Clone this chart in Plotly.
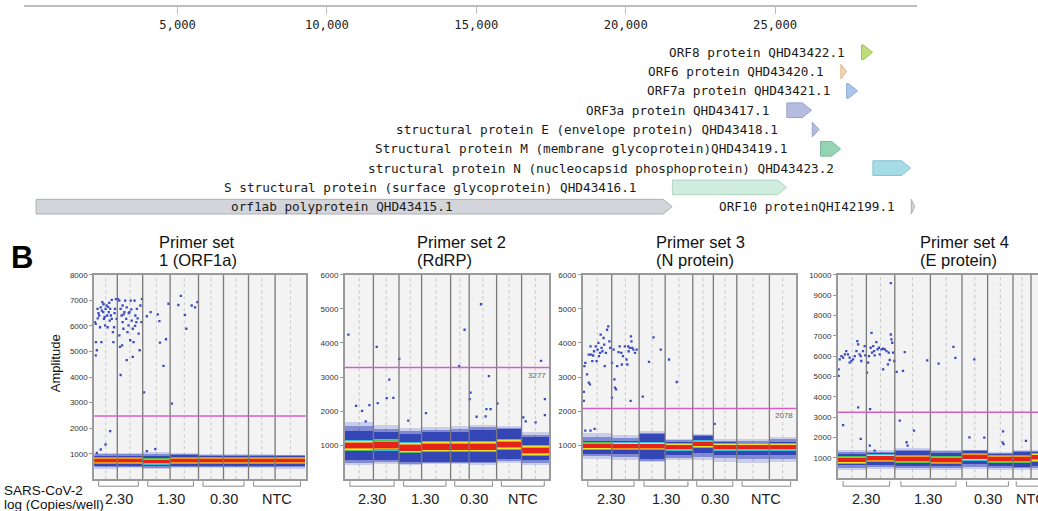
import plotly.graph_objects as go

W, H = 1038, 511


def px(x):
    return x / W


def py(y):
    return 1 - y / H


# ---------------- genome map data ----------------
genome_ticks = [5000, 10000, 15000, 20000, 25000]
gene_labels = [
    "ORF8 protein QHD43422.1",
    "ORF6 protein QHD43420.1",
    "ORF7a protein QHD43421.1",
    "ORF3a protein QHD43417.1",
    "structural protein E (envelope protein) QHD43418.1",
    "Structural protein M (membrane glycoprotein)QHD43419.1",
    "structural protein N (nucleocapsid phosphoprotein) QHD43423.2",
    "S structural protein (surface glycoprotein) QHD43416.1",
    "orf1ab polyprotein QHD43415.1",
    "ORF10 proteinQHI42199.1",
]
gene_start = [27894, 27202, 27394, 25393, 26245, 26523, 28274, 21563, 266, 29558]
gene_end = [28259, 27387, 27759, 26220, 26472, 27191, 29533, 25384, 21555, 29674]
gene_row = [0, 1, 2, 3, 4, 5, 6, 7, 8, 8]

# ---------------- ddPCR data ----------------
group_labels = ["2.30", "1.30", "0.30", "NTC"]

# droplet events per well
p1_counts = [11500, 12700, 13700, 14200, 12500, 12500, 13300, 15300]
p2_counts = [14200, 12800, 11300, 14500, 9300, 13700, 12500, 13700]
p3_counts = [14500, 13700, 13000, 13800, 10300, 11700, 16300, 13300]
p4_counts = [14200, 14200, 17800, 15800, 12800, 12700, 9000, 9000]

# negative-droplet cluster: centre, dense band and sparse fringe
p1_center = [740, 745, 705, 745, 735, 745, 740, 735]
p1_solid_lo = [530, 530, 520, 540, 540, 540, 540, 530]
p1_solid_hi = [920, 930, 900, 940, 930, 930, 920, 910]
p1_fringe_lo = [420, 430, 400, 430, 440, 430, 430, 420]
p1_fringe_hi = [1030, 1050, 1080, 1040, 1000, 990, 980, 970]
p1_core_half = 135

p2_center = [990, 1010, 930, 960, 960, 960, 1020, 845]
p2_solid_lo = [560, 580, 505, 520, 520, 520, 600, 555]
p2_solid_hi = [1430, 1380, 1330, 1380, 1400, 1450, 1480, 1230]
p2_fringe_lo = [430, 450, 420, 440, 450, 420, 480, 430]
p2_fringe_hi = [1680, 1600, 1500, 1530, 1560, 1600, 1560, 1400]
p2_core_half = 165

p3_center = [990, 970, 970, 950, 1040, 950, 950, 950]
p3_solid_lo = [750, 760, 600, 720, 780, 730, 720, 720]
p3_solid_hi = [1140, 1130, 1330, 1100, 1260, 1100, 1080, 1100]
p3_fringe_lo = [600, 580, 500, 560, 560, 520, 480, 500]
p3_fringe_hi = [1350, 1300, 1420, 1200, 1320, 1180, 1200, 1250]
p3_core_half = 115

p4_center = [920, 985, 955, 905, 1060, 950, 950, 1030]
p4_solid_lo = [640, 660, 590, 620, 700, 620, 560, 600]
p4_solid_hi = [1200, 1230, 1360, 1250, 1350, 1200, 1300, 1300]
p4_fringe_lo = [420, 450, 400, 430, 450, 420, 430, 420]
p4_fringe_hi = [1380, 1400, 1480, 1400, 1420, 1320, 1400, 1420]
p4_core_half = 200

thresholds = [2480, 3277, 2078, 3250]
threshold_labels = [None, "3277", "2078", None]
y_max = [8000, 6000, 6000, 10000]
p1_yticks = [1000, 2000, 3000, 4000, 5000, 6000, 7000, 8000]
p2_yticks = [1000, 2000, 3000, 4000, 5000, 6000]
p3_yticks = [1000, 2000, 3000, 4000, 5000, 6000]
p4_yticks = [1000, 2000, 3000, 4000, 5000, 6000, 7000, 8000, 9000, 10000]

# individual droplets (well index + position within well, amplitude)
p1_pos = [0.03, 0.06, 0.07, 0.11, 0.06, 0.14, 0.21, 0.28, 0.35, 0.39, 0.42, 0.49, 0.53, 0.56, 0.58,
          0.63, 0.67, 0.69, 0.72, 0.76, 0.76, 0.81, 0.83, 0.86, 0.90, 0.94, 0.97, 0.31, 0.25, 0.47,
          0.18, 0.33, 0.45, 0.60, 0.88, 0.15, 0.65, 0.40, 0.69, 0.49, 0.28, 0.11,
          1.03, 1.08, 1.13, 1.17, 1.21, 1.24, 1.08, 1.11, 1.13, 1.19, 1.28, 1.31, 1.35, 1.37, 1.40,
          1.44, 1.48, 1.51, 1.53, 1.57, 1.61, 1.61, 1.64, 1.68, 1.71, 1.75, 1.77, 1.84, 1.88, 1.91,
          1.95, 1.97, 1.37, 1.21, 1.45, 1.55, 1.25, 1.80, 1.70,
          2.05, 2.15, 2.29, 2.55, 2.63, 2.61, 2.76, 2.94, 2.85, 2.46, 2.15,
          3.06, 3.29, 3.38, 3.52, 3.57, 3.76, 3.88, 3.96]
p1_amp = [6150, 6080, 5370, 5050, 4850, 6670, 6410, 6730, 6930, 6540, 6280, 6670, 6800, 6410, 5950,
          6540, 6210, 6670, 6410, 7020, 6280, 5760, 5370, 5950, 6670, 7050, 6280, 5370, 5950, 6020,
          6500, 6600, 6350, 6750, 6500, 6300, 6900, 6850, 1880, 1360, 1165, 1035,
          7050, 6990, 6670, 6410, 6150, 5890, 5630, 5180, 4080, 5240, 6540, 6990, 6280, 6730, 5760,
          6020, 6540, 5440, 6990, 6210, 5890, 4790, 5370, 6990, 6410, 6150, 6670, 5700, 5050, 6800,
          6150, 7050, 4660, 6800, 6500, 6650, 6450, 6300, 6000,
          3400, 6380, 6540, 6450, 5350, 6190, 4440, 6870, 5480, 1180, 1100,
          2960, 6820, 7180, 6430, 5890, 6800, 6730, 6930]

p2_pos = [0.12, 0.39, 0.60, 0.86, 0.73,
          1.13, 1.17, 1.52, 1.62, 1.78,
          2.01, 2.41, 3.15, 4.46, 4.75,
          5.05, 5.02, 5.43, 5.27, 5.60, 5.72, 5.63, 5.78,
          6.03, 7.06, 7.15, 7.51, 7.71, 7.85, 7.85]
p2_amp = [4243, 2156, 2010, 2175, 1700,
          3884, 2233, 2379, 2923, 2389,
          3534, 1719, 1942, 3321, 4389,
          2544, 2350, 5137, 1835, 1845, 3030, 2058, 2058,
          2224, 1816, 1700, 1670, 3476, 2350, 1884]

p3_pos = [0.04, 0.04, 0.06, 0.09, 0.15, 0.21, 0.25, 0.21, 0.29, 0.33, 0.39, 0.45, 0.51, 0.54, 0.56,
          0.60, 0.62, 0.65, 0.68, 0.72, 0.74, 0.80, 0.84, 0.88, 0.92, 0.95, 0.76, 0.48, 0.36, 0.27,
          0.09, 0.27, 0.41,
          1.01, 1.01, 1.07, 1.10, 1.12, 1.20, 1.25, 1.29, 1.35, 1.37, 1.41, 1.48, 1.54, 1.57, 1.62,
          1.66, 1.70, 1.72, 1.75, 1.79, 1.85, 1.91, 1.69, 1.60, 1.16,
          2.14, 2.38, 2.55, 2.83, 3.14, 3.42, 5.05]
p3_amp = [2563, 2301, 3321, 3418, 3078, 2835, 2787, 3660, 3660, 3467, 3758, 3903, 3806, 4001, 3612,
          3709, 4243, 3855, 3758, 4146, 3952, 3709, 4389, 4486, 4049, 3855, 3321, 3467, 3632, 3903,
          1427, 1427, 1476,
          2398, 3418, 3806, 2932, 2690, 3321, 3729, 3903, 3709, 3369, 3612, 3903, 3515, 3369, 3758,
          3855, 4195, 4049, 3855, 3806, 3709, 3806, 2301, 3903, 2641,
          2427, 3447, 4166, 3806, 3515, 2855, 1623]

p4_pos = [0.02, 0.02, 0.06, 0.12, 0.18, 0.24, 0.29, 0.35, 0.41, 0.47, 0.53, 0.59, 0.65, 0.68, 0.71,
          0.76, 0.80, 0.82, 0.88, 0.94, 0.96, 0.71, 0.18, 0.80, 0.41,
          1.02, 1.06, 1.09, 1.13, 1.15, 1.18, 1.20, 1.24, 1.27, 1.29, 1.35, 1.39, 1.44, 1.47, 1.53,
          1.59, 1.65, 1.71, 1.76, 1.79, 1.82, 1.86, 1.88, 1.91, 1.94, 1.98, 1.86, 1.59, 1.12, 1.29,
          2.05, 2.14, 2.23, 2.28, 2.33, 2.36, 2.54, 2.91,
          3.73, 3.79, 3.26, 4.48, 4.29, 4.87, 5.61, 5.59, 5.63, 6.72]
p4_amp = [5030, 5356, 5845, 6009, 5927, 6090, 6253, 6090, 5927, 5764, 5845, 6009, 6253, 6742, 6579,
          6090, 6009, 5764, 6253, 6498, 6042, 3482, 2617, 1932, 5682,
          5193, 5682, 6009, 3400, 6416, 7150, 6172, 6498, 6253, 6042, 6693, 6335, 6416, 6090, 6335,
          6368, 6335, 6253, 5601, 6172, 5813, 7068, 6824, 6661, 6172, 5764, 9598, 5356, 1606, 1361,
          5226, 2829, 5275, 6205, 1769, 1606, 2340, 5797,
          6460, 5920, 5640, 5840, 2010, 2000, 2300, 1760, 1680, 1840]
p4_visible_events = 100000

# ---------------- styles ----------------
gene_fill = ["#bcdd78", "#f6d3ad", "#abc6ea", "#b4bde0", "#b4bde0", "#95d3b5",
             "#a6dbe8", "#cfecdf", "#d4d5da", "#d4d5da"]
gene_line = ["#9cc45a", "#e2b68c", "#8eaad3", "#98a2c9", "#98a2c9", "#79b99a",
             "#87c1cf", "#aed3c2", "#aeafb5", "#aeafb5"]
label_gap = [15, 15, 15, 16, 32, 32, 37, 34, 0, 14]
ROW_HALF = 0.38
HEAD_BP = 300
MONO = "DejaVu Sans Mono"
SANS = "Liberation Sans"
GENE_FONT = 12.7

panel_px_x = [(94.3, 305.7), (345, 549), (582.7, 796), (838, 1038)]
panel_px_y = [(273, 479), (273, 479), (273, 479), (273, 478)]
title_px_x = [157, 415, 654, 918]
titles = [("Primer set", "1 (ORF1a)"), ("Primer set 2", "(RdRP)"),
          ("Primer set 3", "(N protein)"), ("Primer set 4", "(E protein)")]

core_frac = [1.0, 0.88, 0.76, 0.64, 0.5]
core_col = ["#38c4d6", "#52c84a", "#f1e22c", "#f3971f", "#e6231b"]
SOLID = "#3446b6"
FRINGE_OUT = "rgba(60,78,196,0.22)"
FRINGE_IN = "rgba(55,72,190,0.5)"
DOT = "#3b4cc0"

fig = go.Figure()
shapes = []
annotations = []

# ---------------- genome map ----------------
for i, lab in enumerate(gene_labels):
    s, e, r = gene_start[i], gene_end[i], gene_row[i]
    head = min(HEAD_BP, e - s)
    xs = [s, e - head, e, e - head, s, s]
    ys = [r - ROW_HALF, r - ROW_HALF, r, r + ROW_HALF, r + ROW_HALF, r - ROW_HALF]
    fig.add_trace(go.Scatter(x=xs, y=ys, mode="lines", fill="toself",
                             fillcolor=gene_fill[i],
                             line=dict(color=gene_line[i], width=1),
                             xaxis="x", yaxis="y", hoverinfo="skip"))
    if label_gap[i] == 0:
        annotations.append(dict(x=(s + e) / 2, y=r, xref="x", yref="y", text=lab,
                                showarrow=False, xanchor="center", yanchor="middle",
                                xshift=-12, font=dict(family=MONO, size=GENE_FONT, color="#1a1a1a")))
    else:
        annotations.append(dict(x=s, y=r, xref="x", yref="y", text=lab,
                                showarrow=False, xanchor="right", yanchor="middle",
                                xshift=-label_gap[i],
                                font=dict(family=MONO, size=GENE_FONT, color="#1a1a1a")))

layout_axes = dict(
    xaxis=dict(domain=[px(24), px(917)], range=[-140, 29750], anchor="free",
               position=py(2.5), side="bottom", showline=True, linecolor="#bdbdbd",
               linewidth=1.5, ticks="outside", ticklen=7, tickcolor="#bdbdbd",
               tickvals=genome_ticks, tickformat=",d", showgrid=False, zeroline=False,
               tickfont=dict(family=MONO, size=12.2, color="#222")),
    yaxis=dict(domain=[py(214), py(39)], range=[8.5, -0.5], visible=False),
)

# ---------------- ddPCR panels ----------------
panels = [
    dict(counts=p1_counts, center=p1_center, slo=p1_solid_lo, shi=p1_solid_hi,
         flo=p1_fringe_lo, fhi=p1_fringe_hi, core=p1_core_half, pos=p1_pos, amp=p1_amp,
         yt=p1_yticks),
    dict(counts=p2_counts, center=p2_center, slo=p2_solid_lo, shi=p2_solid_hi,
         flo=p2_fringe_lo, fhi=p2_fringe_hi, core=p2_core_half, pos=p2_pos, amp=p2_amp,
         yt=p2_yticks),
    dict(counts=p3_counts, center=p3_center, slo=p3_solid_lo, shi=p3_solid_hi,
         flo=p3_fringe_lo, fhi=p3_fringe_hi, core=p3_core_half, pos=p3_pos, amp=p3_amp,
         yt=p3_yticks),
    dict(counts=p4_counts, center=p4_center, slo=p4_solid_lo, shi=p4_solid_hi,
         flo=p4_fringe_lo, fhi=p4_fringe_hi, core=p4_core_half, pos=p4_pos, amp=p4_amp,
         yt=p4_yticks),
]

for k, p in enumerate(panels):
    n = k + 2
    xa, ya = f"x{n}", f"y{n}"
    counts = p["counts"]
    starts = [sum(counts[:i]) for i in range(len(counts))]
    mids = [starts[i] + counts[i] / 2 for i in range(len(counts))]
    total = sum(counts)

    def bar(lo, hi, color):
        fig.add_trace(go.Bar(x=mids, width=counts, base=lo,
                             y=[h - l for h, l in zip(hi, lo)],
                             marker=dict(color=color, line=dict(width=0)),
                             xaxis=xa, yaxis=ya, hoverinfo="skip"))

    bar(p["flo"], p["fhi"], FRINGE_OUT)
    bar([(a + b) / 2 for a, b in zip(p["flo"], p["slo"])],
        [(a + b) / 2 for a, b in zip(p["fhi"], p["shi"])], FRINGE_IN)
    bar(p["slo"], p["shi"], SOLID)
    for f, col in zip(core_frac, core_col):
        half = p["core"] * f
        bar([c - half for c in p["center"]], [c + half for c in p["center"]], col)

    xs = []
    for v in p["pos"]:
        w = int(v)
        xs.append(starts[w] + (v - w) * counts[w])
    fig.add_trace(go.Scatter(x=xs, y=p["amp"], mode="markers",
                             marker=dict(size=2.3, symbol="square", color=DOT,
                                         line=dict(width=0)),
                             xaxis=xa, yaxis=ya, hoverinfo="skip"))

    x0p, x1p = panel_px_x[k]
    y0p, y1p = panel_px_y[k]
    xr = [0, total] if k < 3 else [0, p4_visible_events]
    layout_axes[f"xaxis{n}"] = dict(domain=[px(x0p), px(x1p)], range=xr, anchor=ya,
                                    showticklabels=False, ticks="", showgrid=False,
                                    zeroline=False, showline=True, mirror=True,
                                    linecolor="#9a9a9a", linewidth=2)
    layout_axes[f"yaxis{n}"] = dict(domain=[py(y1p), py(y0p)], range=[0, y_max[k]],
                                    anchor=xa, tickvals=p["yt"], tickformat="d",
                                    ticks="outside",
                                    ticklen=3, tickcolor="#999", showgrid=False,
                                    zeroline=False, showline=True, mirror=(k < 3),
                                    linecolor="#9a9a9a", linewidth=2,
                                    tickfont=dict(family=SANS, size=8, color="#333"))

    # background
    shapes.append(dict(type="rect", xref=f"{xa} domain", yref=f"{ya} domain",
                       x0=0, x1=1, y0=0, y1=1, fillcolor="#f3f3f3",
                       line=dict(width=0), layer="below"))
    for m in mids:
        shapes.append(dict(type="line", xref=xa, yref=f"{ya} domain", x0=m, x1=m,
                           y0=0, y1=1, line=dict(color="#c6c6c6", width=1, dash="dot"),
                           layer="below"))
    for i in range(1, len(counts)):
        shapes.append(dict(type="line", xref=xa, yref=f"{ya} domain",
                           x0=starts[i], x1=starts[i], y0=0, y1=1,
                           line=dict(color="#7a7a7a", width=1.3), layer="above"))
    shapes.append(dict(type="line", xref=f"{xa} domain", yref=ya, x0=0, x1=1,
                       y0=thresholds[k], y1=thresholds[k],
                       line=dict(color="#d35fc6", width=1.5), layer="above"))
    if threshold_labels[k]:
        annotations.append(dict(x=0.995, y=thresholds[k], xref=f"{xa} domain", yref=ya,
                                text=threshold_labels[k], showarrow=False,
                                xanchor="right", yanchor="top", yshift=-1,
                                font=dict(family=SANS, size=8, color="#666")))

    # group brackets + labels
    for g, glab in enumerate(group_labels):
        gs = starts[2 * g]
        ge = starts[2 * g + 1] + counts[2 * g + 1]
        gw = ge - gs
        bx0, bx1 = gs + 0.09 * gw, ge - 0.09 * gw
        shapes.append(dict(type="path", xref=xa, yref="paper",
                           path=f"M {bx0},{py(481)} L {bx0},{py(486)} L {bx1},{py(486)} L {bx1},{py(481)}",
                           line=dict(color="#8a8a8a", width=1)))
        annotations.append(dict(x=(gs + ge) / 2, y=py(499), xref=xa, yref="paper",
                                text=glab, showarrow=False, xanchor="center",
                                yanchor="middle",
                                font=dict(family=SANS, size=14.5, color="#222")))

    # titles
    annotations.append(dict(x=px(title_px_x[k]), y=py(240), xref="paper", yref="paper",
                            text=titles[k][0], showarrow=False, xanchor="left",
                            yanchor="middle", font=dict(family=SANS, size=16.5, color="#111")))
    annotations.append(dict(x=px(title_px_x[k]), y=py(258), xref="paper", yref="paper",
                            text=titles[k][1], showarrow=False, xanchor="left",
                            yanchor="middle", font=dict(family=SANS, size=16.5, color="#111")))

annotations += [
    dict(x=px(9), y=py(256), xref="paper", yref="paper", text="<b>B</b>", showarrow=False,
         xanchor="left", yanchor="middle", font=dict(family=SANS, size=31, color="#000")),
    dict(x=px(55), y=py(362), xref="paper", yref="paper", text="Amplitude", showarrow=False,
         textangle=-90, xanchor="center", yanchor="middle",
         font=dict(family=SANS, size=13, color="#111")),
    dict(x=px(2), y=py(490), xref="paper", yref="paper", text="SARS-CoV-2", showarrow=False,
         xanchor="left", yanchor="middle", font=dict(family=SANS, size=13.5, color="#111")),
    dict(x=px(2), y=py(504), xref="paper", yref="paper", text="log (Copies/well)",
         showarrow=False, xanchor="left", yanchor="middle",
         font=dict(family=SANS, size=13.5, color="#111")),
]

fig.update_layout(
    width=W, height=H, margin=dict(l=0, r=0, t=0, b=0, pad=0),
    paper_bgcolor="white", plot_bgcolor="white", showlegend=False,
    barmode="overlay", bargap=0, shapes=shapes, annotations=annotations,
    font=dict(family=SANS), **layout_axes,
)

fig.write_html("out.html", config={"displayModeBar": False},
               post_script="document.body.style.margin='0';document.body.style.overflow='hidden';")
